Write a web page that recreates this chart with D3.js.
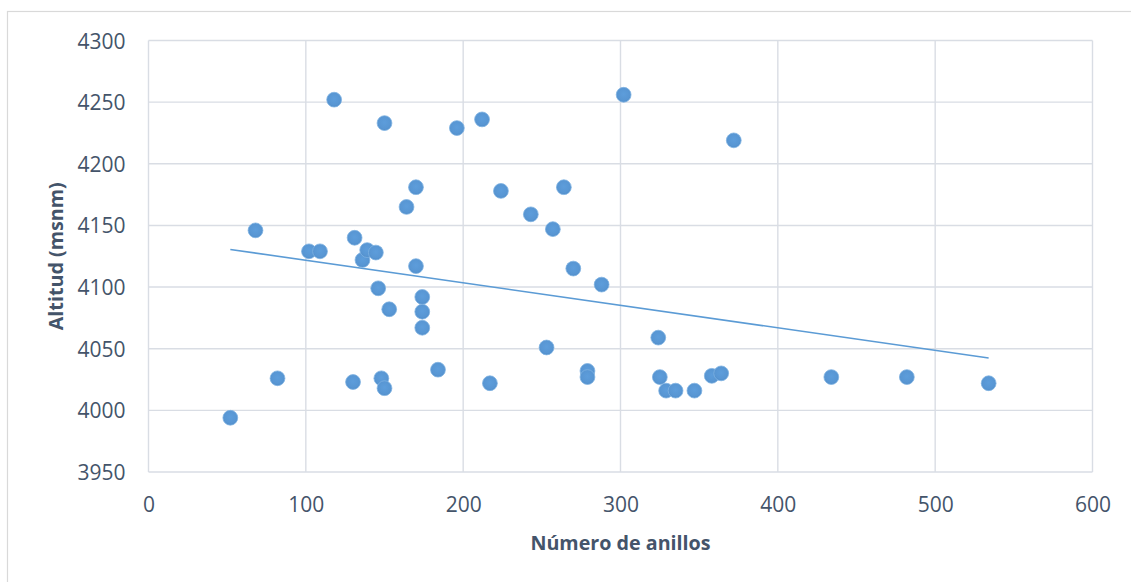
<!DOCTYPE html>
<html>
<head>
<meta charset="utf-8">
<script src="https://cdn.jsdelivr.net/npm/d3@7"></script>
<style>
  html, body { margin: 0; padding: 0; background: #fff; }
  svg { display: block; }
</style>
</head>
<body>
<svg id="chart" width="1131" height="582"></svg>
<script>
// Número de anillos (x) y altitud en msnm (y) de cada muestra
const rings = [52, 68, 82, 102, 109, 118, 130, 131, 136, 139, 144.5, 146, 148, 150, 150, 153,
  164, 170, 170, 174, 174, 174, 184, 196, 212, 217, 224, 243, 253, 257, 264, 270, 279, 279,
  288, 302, 324, 325, 329, 335, 347, 358, 364, 372, 434, 482, 534];
const altitude = [3994, 4146, 4026, 4129, 4129, 4252, 4023, 4140, 4122, 4130, 4128, 4099, 4026, 4233, 4018, 4082,
  4165, 4181, 4117, 4092, 4080, 4067, 4033, 4229, 4236, 4022, 4178, 4159, 4051, 4147, 4181, 4115, 4032, 4027,
  4102, 4256, 4059, 4027, 4016, 4016, 4016, 4028, 4030, 4219, 4027, 4027, 4022];

const xTicks = [0, 100, 200, 300, 400, 500, 600];
const yTicks = [3950, 4000, 4050, 4100, 4150, 4200, 4250, 4300];

const xTitle = "Número de anillos";
const yTitle = "Altitud (msnm)";

const svg = d3.select("#chart");
const plot = { left: 148.5, right: 1092.5, top: 40.5, bottom: 472 };

const x = d3.scaleLinear().domain([0, 600]).range([plot.left, plot.right]);
const y = d3.scaleLinear().domain([3950, 4300]).range([plot.bottom, plot.top]);

const gridColor = "#d9dde4";
const textColor = "#44546a";
const font = "'Open Sans', 'Noto Sans', sans-serif";

// Chart frame
svg.append("rect")
  .attr("x", 7.5).attr("y", 11.5)
  .attr("width", 1300).attr("height", 800)
  .attr("fill", "#fff").attr("stroke", "#d9d9d9").attr("stroke-width", 1.2);

// Gridlines
svg.append("g").selectAll("line").data(yTicks).join("line")
  .attr("x1", plot.left).attr("x2", plot.right)
  .attr("y1", d => y(d)).attr("y2", d => y(d))
  .attr("stroke", gridColor).attr("stroke-width", 1.4);
svg.append("g").selectAll("line").data(xTicks).join("line")
  .attr("x1", d => x(d)).attr("x2", d => x(d))
  .attr("y1", plot.top).attr("y2", plot.bottom)
  .attr("stroke", gridColor).attr("stroke-width", 1.4);

// Axes (labels only, lines come from the grid)
const xAxis = svg.append("g")
  .attr("transform", `translate(0,${plot.bottom})`)
  .call(d3.axisBottom(x).tickValues(xTicks).tickSize(0).tickPadding(25).tickFormat(d3.format("d")));
const yAxis = svg.append("g")
  .attr("transform", `translate(${plot.left},0)`)
  .call(d3.axisLeft(y).tickValues(yTicks).tickSize(0).tickPadding(23).tickFormat(d3.format("d")));
[xAxis, yAxis].forEach(g => {
  g.select(".domain").remove();
  g.selectAll("text")
    .attr("fill", textColor)
    .style("font-family", font)
    .style("font-size", "21px");
});
yAxis.selectAll("text").attr("dy", "0.36em");
xAxis.selectAll("text").attr("dy", "0.71em");

// Axis titles
svg.append("text")
  .attr("x", (plot.left + plot.right) / 2).attr("y", 550)
  .attr("text-anchor", "middle")
  .attr("fill", textColor)
  .style("font-family", font).style("font-size", "19.7px").style("font-weight", "bold")
  .text(xTitle);
svg.append("text")
  .attr("transform", `translate(63,${(plot.top + plot.bottom) / 2}) rotate(-90)`)
  .attr("text-anchor", "middle")
  .attr("fill", textColor)
  .style("font-family", font).style("font-size", "19.7px").style("font-weight", "bold")
  .text(yTitle);

// Linear trendline (least squares) across the observed range
const pts = rings.map((r, i) => [r, altitude[i]]);
const mx = d3.mean(rings), my = d3.mean(altitude);
const slope = d3.sum(pts, p => (p[0] - mx) * (p[1] - my)) / d3.sum(pts, p => (p[0] - mx) ** 2);
const intercept = my - slope * mx;
const [xmin, xmax] = d3.extent(rings);
svg.append("line")
  .attr("x1", x(xmin)).attr("y1", y(intercept + slope * xmin))
  .attr("x2", x(xmax)).attr("y2", y(intercept + slope * xmax))
  .attr("stroke", "#5b9bd5").attr("stroke-width", 1.6);

// Markers
const defs = svg.append("defs");
const grad = defs.append("radialGradient").attr("id", "dot")
  .attr("cx", "50%").attr("cy", "45%").attr("r", "55%");
grad.append("stop").attr("offset", "0%").attr("stop-color", "#5d9ddb");
grad.append("stop").attr("offset", "75%").attr("stop-color", "#5896d3");
grad.append("stop").attr("offset", "100%").attr("stop-color", "#4f8cc9");

svg.append("g").selectAll("circle").data(pts).join("circle")
  .attr("cx", d => x(d[0])).attr("cy", d => y(d[1]))
  .attr("r", 7.4)
  .attr("fill", "url(#dot)")
  .attr("stroke", "#7fb2e2").attr("stroke-width", 0.8);
</script>
</body>
</html>
